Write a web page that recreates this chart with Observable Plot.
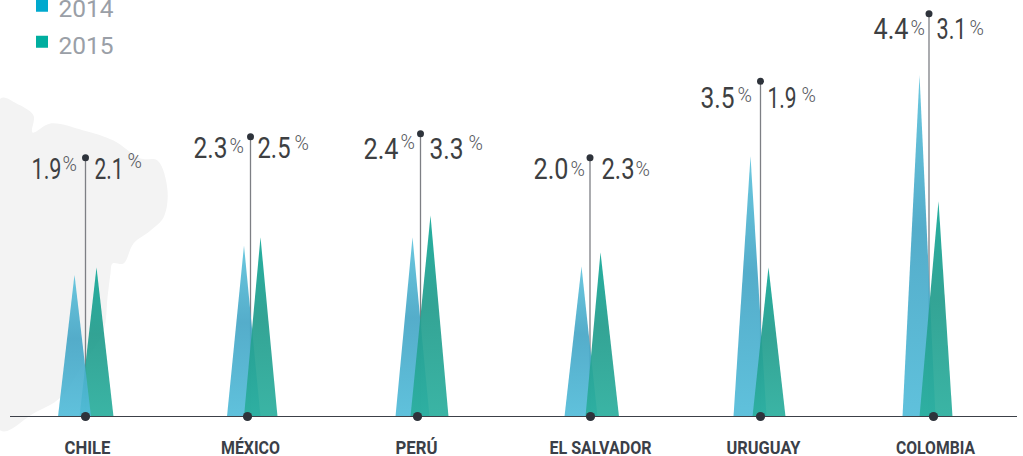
<!DOCTYPE html>
<html>
<head>
<meta charset="utf-8">
<script src="https://cdn.jsdelivr.net/npm/d3@7"></script>
<script src="https://cdn.jsdelivr.net/npm/@observablehq/plot@0.6"></script>
<style>html,body{margin:0;padding:0;background:#fff}svg{display:block}</style>
</head>
<body>
<script>
const countries = ["CHILE","MÉXICO","PERÚ","EL SALVADOR","URUGUAY","COLOMBIA"];
const labels2014 = ["1.9","2.3","2.4","2.0","3.5","4.4"];
const labels2015 = ["2.1","2.5","3.3","2.3","1.9","3.1"];
// triangle heights as drawn (they do not quite follow the printed figures)
const peak2014 = [1.89,2.28,2.39,2.00,3.47,4.55];
const peak2015 = [1.99,2.39,2.68,2.19,1.99,2.87];
// horizontal positions
const apex2014 = [74,243.5,412,581,750,919];
const apex2015 = [96,260,430,600,768,938];
const baseL2014 = [57.5,226.5,395,564,733,902];
const baseR2014 = [90.5,260,429,597,766,935];
const baseL2015 = [79,243.5,410,585,752,919];
const baseR2015 = [113,277,448,618.5,785,952];
const stemX = [85,250,420,589.5,760,928.5];
const stemTop = [3.45,3.73,3.77,3.45,4.47,5.37];
const footX = [85,247,417,590,760,933];
const labelX = [87,250,416,600,763,935];
const valEnd2014 = [61,227,398,568,734,908];
const valStart2015 = [94,257,429,601,767,936];
const valWidth2014 = [30,34,35,35,34,35];
const valWidth2015 = [29,33,34,33,29,30];
const pctStart2014 = [62,229,400,570,737,910];
const pctStart2015 = [127,294,468,635,801,969];
const valBase = [3.17,3.45,3.44,3.17,4.12,5.04];
const pctBase2014 = [3.28,3.51,3.57,3.21,4.19,5.09];
const pctBase2015 = [3.32,3.55,3.55,3.21,4.19,5.09];
const labelWidth = [46,59,42,102,74,79];
const blob = [[0,98],[16,103],[33,115],[32,132],[50,123],[83,130],[113,140],[140,158],[157,160],[167,190],[163,217],[150,230],[133,243],[123,263],[112,263],[110,273],[107,297],[103,330],[83,363],[60,397],[33,413],[0,430]];
const blobY = blob.map(d => (416 - d[1]) / 75);
const blobPts = blob.map((d,i) => ({x:d[0], y:blobY[i]}));
const legendYears = ["2014","2015"];
const legendColors = ["#00a9ce","#00ae9f"];
const legendTop = [5.55,5.07];
const legendBottom = [5.39,4.91];
const legendBase = [5.33,4.84];

const rows = countries.map((c,i)=>({c,i}));
const sans = "Roboto";
const numColor = "#3d3f42";
const darkDot = "#2e333b";

const tri = (l,a,r,p,fill) => Plot.line(
  [{x:l,y:0},{x:a,y:p},{x:r,y:0}],
  {x:"x",y:"y",fill,stroke:"none",fillOpacity:0.92}
);

const defs = () => {
  const d = d3.create("svg:defs");
  const grad = (id, stops) => {
    const g = d.append("linearGradient").attr("id",id).attr("x1",0).attr("x2",0).attr("y1",0).attr("y2",1);
    stops.forEach(([o,c]) => g.append("stop").attr("offset",o).attr("stop-color",c));
  };
  grad("g14",[[0,"#5fc3dc"],[0.45,"#46a6c6"],[1,"#52bcd9"]]);
  grad("g15",[[0,"#12a898"],[0.45,"#229c8c"],[1,"#2aae9d"]]);
  return d.node();
};

const triangles = rows.flatMap(({i}) => {
  const a = tri(baseL2014[i],apex2014[i],baseR2014[i],peak2014[i],"url(#g14)");
  const b = tri(baseL2015[i],apex2015[i],baseR2015[i],peak2015[i],"url(#g15)");
  return i === 0 ? [b,a] : [a,b];
});

const chart = Plot.plot({
  width:1023, height:456, margin:0,
  x:{domain:[0,1023],range:[0,1023],axis:null},
  y:{domain:[-40/75,416/75],range:[456,0],axis:null},
  style:{background:"transparent"},
  marks:[
    defs,
    Plot.line(blobPts,{x:"x",y:"y",fill:"#f3f3f3",stroke:"none",curve:"catmull-rom-closed"}),
    Plot.ruleX(rows,{x:i=>stemX[i.i],y1:0,y2:i=>stemTop[i.i],stroke:"#7d7f84",strokeWidth:1.3}),
    ...triangles,
    Plot.ruleY([0],{x1:10,x2:1017,stroke:"#3c4048",strokeWidth:1.2}),
    Plot.dot(rows,{x:d=>stemX[d.i],y:d=>stemTop[d.i],r:3.5,fill:darkDot,stroke:"none"}),
    Plot.dot(rows,{x:d=>footX[d.i],y:0,r:4.6,fill:darkDot,stroke:"none"}),
    Plot.text(rows,{className:"v14",x:d=>valEnd2014[d.i],y:d=>valBase[d.i],text:d=>labels2014[d.i],textAnchor:"end",lineAnchor:"bottom",fontFamily:sans,fontWeight:400,fontSize:29,fill:numColor}),
    Plot.text(rows,{className:"v15",x:d=>valStart2015[d.i],y:d=>valBase[d.i],text:d=>labels2015[d.i],textAnchor:"start",lineAnchor:"bottom",fontFamily:sans,fontWeight:400,fontSize:29,fill:numColor}),
    Plot.text(rows,{x:d=>pctStart2014[d.i],y:d=>pctBase2014[d.i],text:()=>"%",textAnchor:"start",lineAnchor:"bottom",fontFamily:sans,fontWeight:300,fontSize:19.5,fill:"#55585c"}),
    Plot.text(rows,{x:d=>pctStart2015[d.i],y:d=>pctBase2015[d.i],text:()=>"%",textAnchor:"start",lineAnchor:"bottom",fontFamily:sans,fontWeight:300,fontSize:19.5,fill:"#55585c"}),
    Plot.text(rows,{className:"lab",x:d=>labelX[d.i],y:-37/75,text:"c",textAnchor:"middle",lineAnchor:"bottom",fontFamily:sans,fontWeight:700,fontSize:18,fill:"#3b3f48"}),
    Plot.rect(legendYears,{x1:36,x2:48,y1:(d,i)=>legendBottom[i],y2:(d,i)=>legendTop[i],fill:(d,i)=>legendColors[i]}),
    Plot.text(legendYears,{x:58,y:(d,i)=>legendBase[i],text:d=>d,textAnchor:"start",lineAnchor:"bottom",fontFamily:sans,fontWeight:400,fontSize:24.5,fill:"#9a9fa7"})
  ]
});
document.body.appendChild(chart);
// the reference face is a narrow DIN: squeeze Roboto to the widths
const squeeze = (cls, widths) => chart.querySelectorAll(`.${cls} text`).forEach((t,i) => {
  t.setAttribute("textLength", widths[i]);
  t.setAttribute("lengthAdjust", "spacingAndGlyphs");
});
squeeze("v14", valWidth2014);
squeeze("v15", valWidth2015);
squeeze("lab", labelWidth);
</script>
</body>
</html>
